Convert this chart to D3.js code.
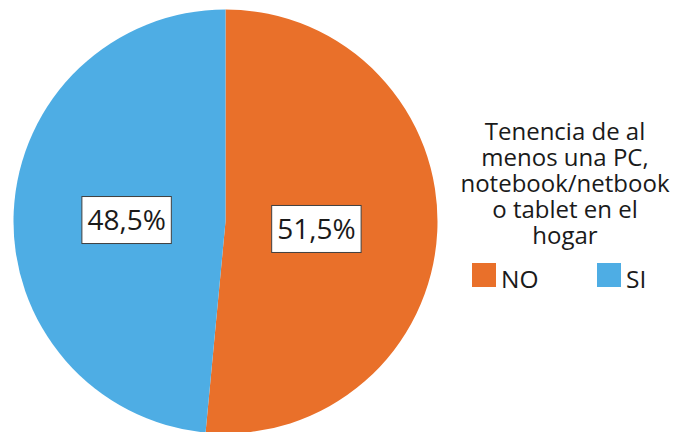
<!DOCTYPE html>
<html><head><meta charset="utf-8">
<script src="https://cdn.jsdelivr.net/npm/d3@7"></script>
<style>html,body{margin:0;padding:0;background:#fff;}svg{display:block;font-family:"Open Sans",sans-serif;}</style>
</head><body>
<svg id="c" width="681" height="432"></svg>
<script>
const categories = ["NO", "SI"];
const values = [51.5, 48.5];
const colors = ["#E9702A", "#4EADE4"];
const valueLabels = ["51,5%", "48,5%"];
const titleLines = ["Tenencia de al", "menos una PC,", "notebook/netbook", "o tablet en el", "hogar"];

const svg = d3.select("#c");
const cx = 225.5, cy = 221.5, R = 212;
const g = svg.append("g").attr("transform", `translate(${cx},${cy})`);
const pie = d3.pie().sort(null).value(d => d)(values);
const arc = d3.arc().innerRadius(0).outerRadius(R);
g.selectAll("path").data(pie).join("path")
  .attr("d", arc).attr("fill", (d, i) => colors[i]);

const labelArc = d3.arc().innerRadius(95).outerRadius(95);
pie.forEach((d, i) => {
  const [x, y] = labelArc.centroid(d);
  const lg = g.append("g").attr("transform", `translate(${x - 4},${y + 3})`);
  const t = lg.append("text").attr("text-anchor", "middle").attr("dy", "0.35em")
    .attr("font-size", 28).attr("fill", "#1a1a1a").text(valueLabels[i]);
  const bb = t.node().getBBox();
  lg.insert("rect", "text").attr("x", bb.x - 5.5).attr("y", -23.5).attr("width", bb.width + 11).attr("height", 47)
    .attr("fill", "#fff").attr("stroke", "#404040").attr("stroke-width", 1);
});

const legX = 565;
svg.selectAll("text.title").data(titleLines).join("text").attr("class", "title")
  .attr("text-anchor", "middle").attr("font-size", 24).attr("fill", "#1a1a1a")
  .attr("x", legX).attr("y", (d, i) => 140 + i * 26).text(d => d);

const legItems = [{x: 472}, {x: 597}];
categories.forEach((c, i) => {
  svg.append("rect").attr("x", legItems[i].x).attr("y", 263).attr("width", 24).attr("height", 24).attr("fill", colors[i]);
  svg.append("text").attr("x", legItems[i].x + 29).attr("y", 288).attr("font-size", 24.5).attr("fill", "#1a1a1a").text(c);
});
</script>
</body></html>
